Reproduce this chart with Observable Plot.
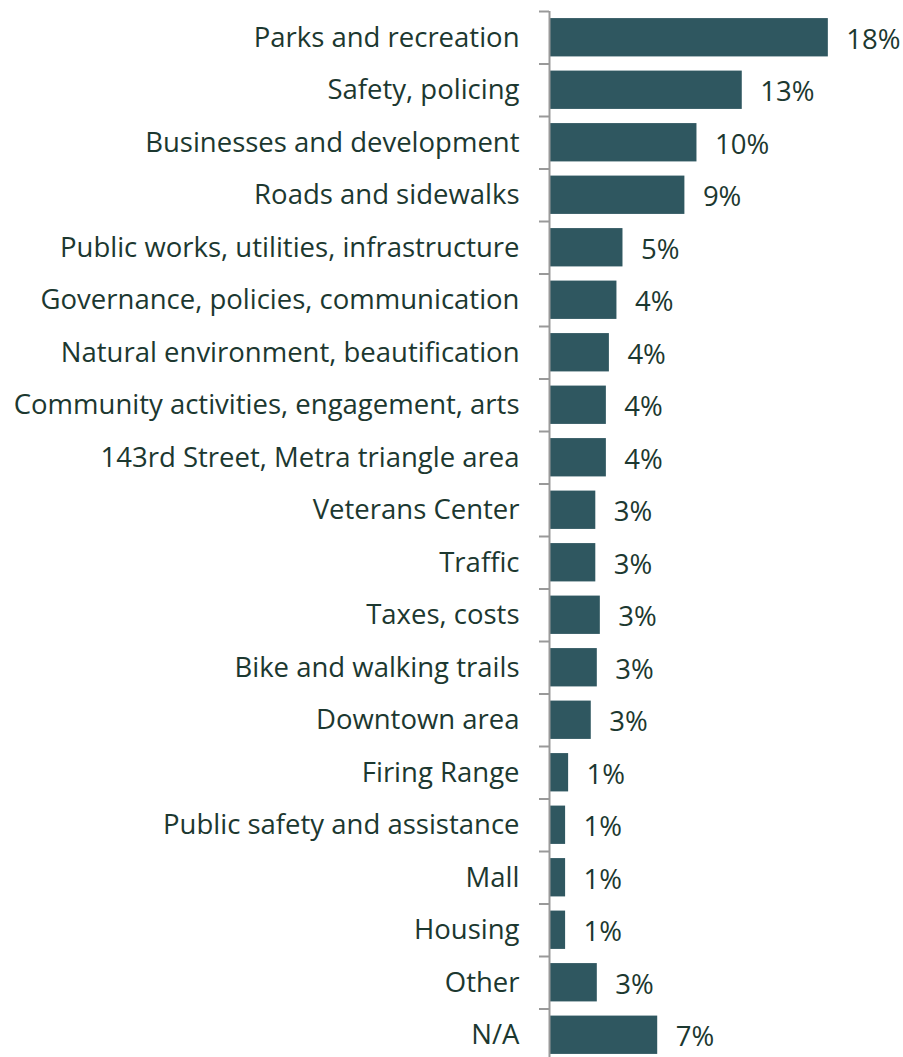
<!DOCTYPE html>
<html>
<head>
<meta charset="utf-8">
<script src="https://cdn.jsdelivr.net/npm/d3@7"></script>
<script src="https://cdn.jsdelivr.net/npm/@observablehq/plot@0.6"></script>
<style>
  html, body { margin: 0; padding: 0; background: #fff; }
  #chart svg { display: block; }
</style>
</head>
<body>
<div id="chart"></div>
<script>
const categories = [
  "Parks and recreation",
  "Safety, policing",
  "Businesses and development",
  "Roads and sidewalks",
  "Public works, utilities, infrastructure",
  "Governance, policies, communication",
  "Natural environment, beautification",
  "Community activities, engagement, arts",
  "143rd Street, Metra triangle area",
  "Veterans Center",
  "Traffic",
  "Taxes, costs",
  "Bike and walking trails",
  "Downtown area",
  "Firing Range",
  "Public safety and assistance",
  "Mall",
  "Housing",
  "Other",
  "N/A"
];
const values = [18.4, 12.7, 9.7, 8.9, 4.8, 4.4, 3.9, 3.7, 3.7, 3.0, 3.0, 3.3, 3.1, 2.7, 1.2, 1.0, 1.0, 1.0, 3.1, 7.1];
const valueLabels = ["18%", "13%", "10%", "9%", "5%", "4%", "4%", "4%", "4%", "3%", "3%", "3%", "3%", "3%", "1%", "1%", "1%", "1%", "3%", "7%"];

const data = categories.map((c, i) => ({category: c, value: values[i], label: valueLabels[i]}));

const W = 903, H = 1057;
const y0 = 11, y1 = 1061;
const step = (y1 - y0) / categories.length;

const chart = Plot.plot({
  width: W,
  height: H,
  marginLeft: 550,
  marginRight: 51,
  marginTop: 11,
  marginBottom: 0,
  style: {fontFamily: "'Open Sans', sans-serif", background: "#fff", overflow: "hidden"},
  x: {domain: [0, 20], axis: null},
  y: {domain: categories, range: [y0, y1], paddingInner: 0.27, paddingOuter: 0.135, round: false, label: null},
  marks: [
    Plot.barX(data, {y: "category", x: "value", fill: "#2f5760"}),
    Plot.axisY({tickSize: 0, tickPadding: 31, fontSize: 27.5, fill: "#1c3830", textAnchor: "end"}),
    Plot.axisY({tickSize: 10, text: null, dy: -step / 2, stroke: "#999", strokeWidth: 2, dx: -1}),
    Plot.ruleX([0], {stroke: "#999", strokeWidth: 2, dx: -1}),
    Plot.text(data, {y: "category", x: "value", text: "label", textAnchor: "start", dx: 18, dy: 2, fontSize: 27.5, fill: "#1c3830"})
  ]
});
document.getElementById("chart").appendChild(chart);
</script>
</body>
</html>
